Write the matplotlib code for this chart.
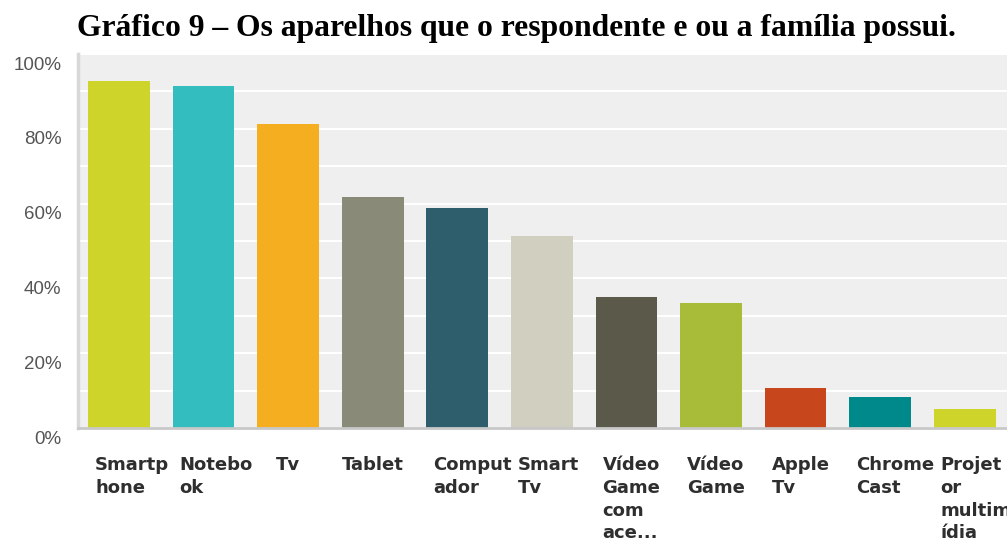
import matplotlib
matplotlib.use('Agg')
import matplotlib.pyplot as plt
import matplotlib.transforms as mtransforms
import numpy as np

# data
categories = ['Smartp\nhone', 'Notebo\nok', 'Tv', 'Tablet', 'Comput\nador', 'Smart\nTv',
              'Vídeo\nGame\ncom\nace...', 'Vídeo\nGame', 'Apple\nTv', 'Chrome\nCast',
              'Projet\nor\nmultim\nídia']
values = [92.8, 91.4, 81.3, 61.8, 58.8, 51.3, 35.0, 33.4, 10.7, 8.3, 5.1]
colors = ['#cfd42a', '#33bdbf', '#f5ae1f', '#8a8a78', '#2e5d6b', '#d0cfc0',
          '#5b5a4a', '#a8bc3a', '#c8461c', '#00898a', '#cfd42a']
yticks = [0, 20, 40, 60, 80, 100]
ytick_labels = ['0%', '20%', '40%', '60%', '80%', '100%']
title = 'Gráfico 9 – Os aparelhos que o respondente e ou a família possui.'

W, H = 1007, 545
fig = plt.figure(figsize=(W/100, H/100), dpi=100)
ax = fig.add_axes([78/W, 1-428/H, 1-78/W, (428-54)/H])
ax.set_facecolor('#efefef')

x = np.arange(len(values))
ax.bar(x, values, width=0.73, color=colors, zorder=3)

ax.set_xlim(-0.485, 10.5)
ax.set_ylim(0, 100)
ax.set_yticks(np.arange(0, 101, 10), minor=True)
ax.set_yticks(yticks)
ax.set_yticklabels(ytick_labels, fontfamily='Liberation Sans', fontsize=13.5, color='#555555')
ax.grid(axis='y', which='both', color='white', linewidth=1.5, zorder=1)
ax.tick_params(axis='y', which='both', length=0, pad=12)
ax.tick_params(axis='x', length=0, pad=20)

down = mtransforms.ScaledTranslation(0, -9/100, fig.dpi_scale_trans)
for lab in ax.get_yticklabels():
    lab.set_transform(lab.get_transform() + down)

ax.set_xticks(x)
ax.set_xticklabels(categories, fontfamily='DejaVu Sans', fontweight='bold', fontsize=13,
                   color='#2e2e2e', linespacing=1.35, va='top')
shift = mtransforms.ScaledTranslation(-24/100, 0, fig.dpi_scale_trans)
for lab, name in zip(ax.get_xticklabels(), categories):
    if '\n' in name:
        lab.set_ha('left')
        lab.set_multialignment('left')
        lab.set_transform(lab.get_transform() + shift)
    else:
        lab.set_ha('center')

for s in ['top', 'right']:
    ax.spines[s].set_visible(False)
ax.spines['left'].set_color('#d8d8d8')
ax.spines['left'].set_linewidth(2.5)
ax.spines['bottom'].set_color('#c8c8c8')
ax.spines['bottom'].set_linewidth(2)
ax.spines['bottom'].set_zorder(4)

fig.text(516/W, 1-36/H, title, ha='center', va='baseline', fontfamily='Liberation Serif',
         fontweight='bold', fontsize=22.8, color='black')

fig.savefig('out.png', dpi=100)
